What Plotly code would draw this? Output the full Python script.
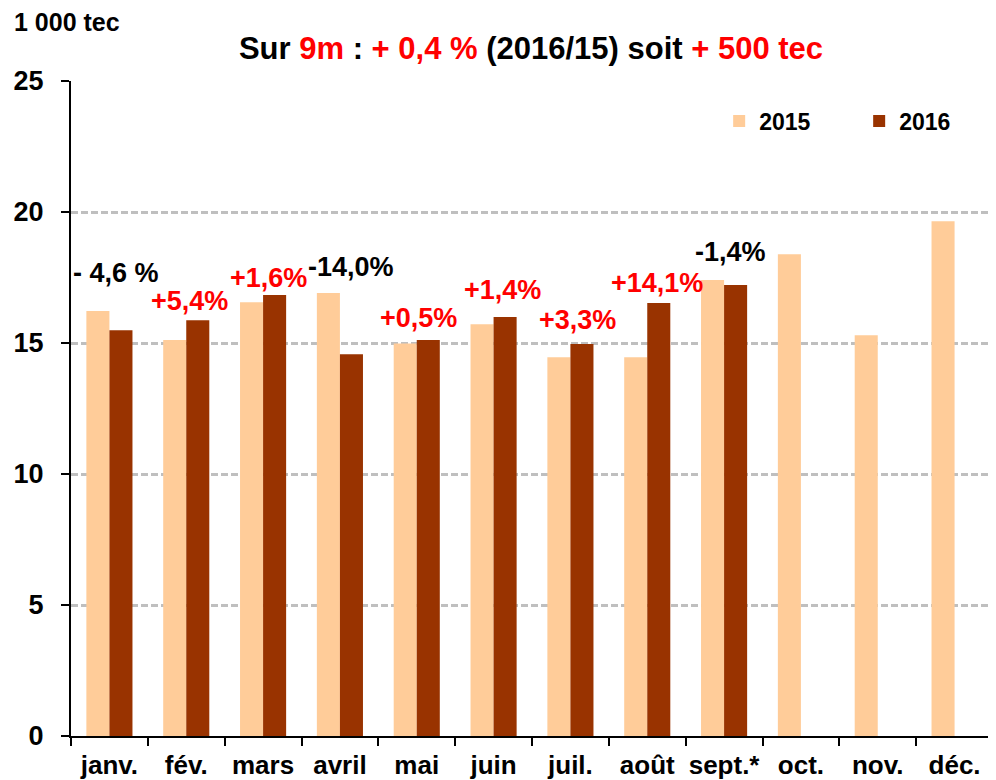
import plotly.graph_objects as go

months = ["janv.", "fév.", "mars", "avril", "mai", "juin", "juil.", "août", "sept.*", "oct.", "nov.", "déc."]
v2015 = [16.22, 15.11, 16.56, 16.91, 14.98, 15.72, 14.46, 14.46, 17.40, 18.39, 15.30, 19.65]
v2016 = [15.49, 15.87, 16.83, 14.57, 15.11, 15.99, 14.96, 16.53, 17.21, None, None, None]

var_labels = ["- 4,6 %", "+5,4%", "+1,6%", "-14,0%", "+0,5%", "+1,4%", "+3,3%", "+14,1%", "-1,4%"]
var_colors = ["black", "red", "red", "black", "red", "red", "red", "red", "black"]
var_y = [17.68, 16.6, 17.48, 17.9, 15.95, 17.02, 15.88, 17.28, 18.47]
var_xshift = [7, 3, 5, 11, 2, 9, 7, 10, 6]

FONT = "Liberation Sans, Arial, sans-serif"

# the page body has an 8px margin: figure is sized/offset to land on the same pixels
OFF = 8
W, H = 996 - OFF, 780 - OFF

fig = go.Figure()
fig.add_trace(go.Bar(x=months, y=v2015, name="<b>2015</b>", marker_color="#FFCC99", marker_line_width=0))
fig.add_trace(go.Bar(x=months, y=v2016, name="<b>2016</b>", marker_color="#993300", marker_line_width=0))

for i, (t, c, yv, xs) in enumerate(zip(var_labels, var_colors, var_y, var_xshift)):
    fig.add_annotation(x=months[i], y=yv, xref="x", yref="y", text="<b>%s</b>" % t,
                       showarrow=False, xshift=xs, yanchor="middle",
                       font=dict(family=FONT, size=27, color=c))

fig.add_annotation(xref="paper", yref="paper", x=(12 - 71) / 922, y=(736 - 22) / 655,
                   xanchor="left", yanchor="middle",
                   text="<b>1 000 tec</b>", showarrow=False,
                   font=dict(family=FONT, size=25, color="black"))

title_txt = ("<b>Sur <span style='color:red'>9m</span> : "
             "<span style='color:red'>+ 0,4 %</span> (2016/15) soit "
             "<span style='color:red'>+ 500 tec</span></b>")

fig.update_layout(
    width=W, height=H,
    margin=dict(l=71 - OFF, r=3, t=81 - OFF, b=44, autoexpand=False),
    paper_bgcolor="white", plot_bgcolor="white",
    barmode="group", bargap=0.4, bargroupgap=0,
    title=dict(text=title_txt, x=(531 - OFF) / W, xanchor="center", xref="container",
               y=1 - (48 - OFF) / H, yanchor="middle", yref="container",
               font=dict(family=FONT, size=31, color="black")),
    legend=dict(orientation="h", x=0.703, y=(736 - 121) / 655, xanchor="left", yanchor="middle",
                font=dict(family=FONT, size=23, color="black"),
                itemwidth=30, entrywidth=95, bgcolor="rgba(0,0,0,0)"),
    font=dict(family=FONT, color="black"),
)

fig.update_yaxes(range=[0, 25], dtick=5, showline=True, linecolor="black", linewidth=2,
                 ticks="outside", ticklen=8, tickwidth=2, tickcolor="black",
                 showgrid=True, gridcolor="#BFBFBF", gridwidth=3, griddash="7px,3px",
                 zeroline=False, ticklabelstandoff=12, automargin=False,
                 tickfont=dict(family=FONT, size=27, color="black"), tickprefix="<b>", ticksuffix="</b>")
fig.update_xaxes(showline=True, linecolor="black", linewidth=2, ticks="outside", ticklen=8,
                 tickwidth=2, tickcolor="black", tickson="boundaries", showgrid=False,
                 tickangle=0, automargin=False, ticklabelstandoff=5,
                 tickfont=dict(family=FONT, size=26, color="black"), tickprefix="<b>", ticksuffix="</b>")

fig.write_html("out.html")
